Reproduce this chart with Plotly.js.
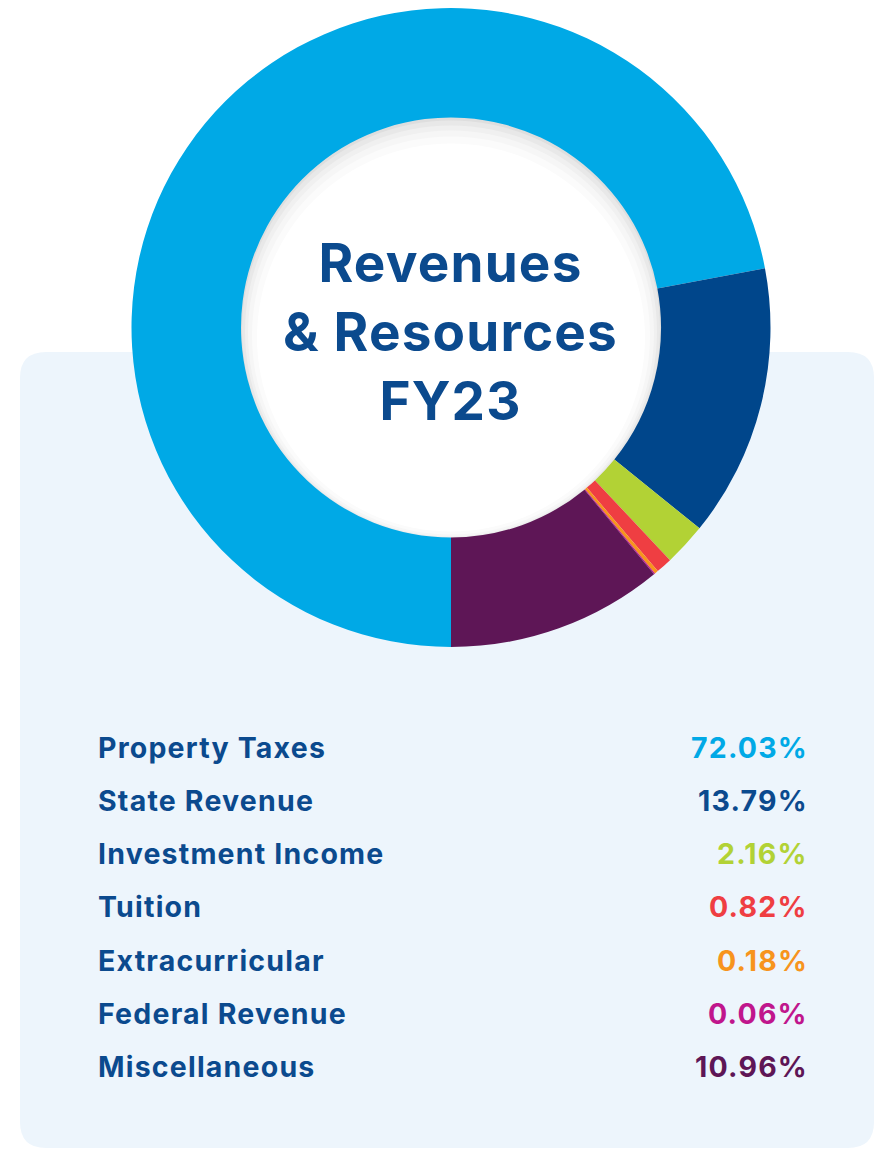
<!DOCTYPE html>
<html>
<head>
<meta charset="utf-8">
<script src="https://cdn.plot.ly/plotly-3.0.1.min.js"></script>
<style>
  html, body { margin: 0; padding: 0; background: #ffffff; }
  #chart { width: 874px; height: 1149px; }
  text.annotation-text { letter-spacing: 1.2px; }
</style>
</head>
<body>
<div id="chart"></div>
<script>
// ---- data ----
const categories = ["Property Taxes", "State Revenue", "Investment Income", "Tuition", "Extracurricular", "Federal Revenue", "Miscellaneous"];
const shares = [72.03, 13.79, 2.16, 0.82, 0.18, 0.06, 10.96];
const valueLabels = ["72.03%", "13.79%", "2.16%", "0.82%", "0.18%", "0.06%", "10.96%"];
const sliceColors = ["#00A9E6", "#00468B", "#B2D235", "#EF3E42", "#F7941D", "#C0168C", "#5E1656"];
const centerTitle = "Revenues<br>& Resources<br>FY23";

// ---- geometry helpers (page pixels -> paper) ----
const W = 874, H = 1149;
const px = x => x / W;
const py = y => 1 - y / H;

const cx = 451, cy = 327.5, rOut = 319.5, rIn = 210;

function circle(cxp, cyp, r, color) {
  return { type: "circle", xref: "paper", yref: "paper", layer: "below",
    x0: px(cxp - r), x1: px(cxp + r), y0: py(cyp + r), y1: py(cyp - r),
    fillcolor: color, line: { width: 0 } };
}

function roundRect(x0, y0, x1, y1, r) {
  const p = (x, y) => px(x) + "," + py(y);
  return "M" + p(x0 + r, y0) + " L" + p(x1 - r, y0) + " Q" + p(x1, y0) + " " + p(x1, y0 + r) +
    " L" + p(x1, y1 - r) + " Q" + p(x1, y1) + " " + p(x1 - r, y1) +
    " L" + p(x0 + r, y1) + " Q" + p(x0, y1) + " " + p(x0, y1 - r) +
    " L" + p(x0, y0 + r) + " Q" + p(x0, y0) + " " + p(x0 + r, y0) + " Z";
}

const shapes = [
  { type: "path", xref: "paper", yref: "paper", layer: "below",
    path: roundRect(20, 352, 874, 1148, 26), fillcolor: "#EDF5FC", line: { width: 0 } },
  circle(cx, cy, rIn + 2, "#dedede"),
  circle(cx, cy + 2, rIn - 1, "#e8e8e8"),
  circle(cx, cy + 4, rIn - 4, "#f0f0f0"),
  circle(cx, cy + 6, rIn - 7, "#f6f6f6"),
  circle(cx, cy + 8, rIn - 11, "#fbfbfb"),
  circle(cx, cy + 10, rIn - 16, "#ffffff")
];

const fontFamily = "Inter, 'Open Sans', sans-serif";
const labelColor = "#0B4A8E";
const rowStart = 747, rowStep = 53.3;

const annotations = [
  { text: centerTitle, xref: "paper", yref: "paper", x: px(451), y: py(332),
    xanchor: "center", yanchor: "middle", showarrow: false, align: "center",
    font: { family: fontFamily, size: 53, color: labelColor, weight: 700 } }
];
categories.forEach((c, i) => {
  const y = py(rowStart + i * rowStep);
  annotations.push({ text: c, xref: "paper", yref: "paper", x: px(96), y: y,
    xanchor: "left", yanchor: "middle", showarrow: false,
    font: { family: fontFamily, size: 28.5, color: labelColor, weight: 700 } });
  annotations.push({ text: valueLabels[i], xref: "paper", yref: "paper", x: px(810), y: y,
    xanchor: "right", yanchor: "middle", showarrow: false,
    font: { family: fontFamily, size: 28.5, color: sliceColors[i] === "#00468B" ? labelColor : sliceColors[i], weight: 700 } });
});

const trace = {
  type: "pie",
  labels: categories,
  values: shares,
  sort: false,
  direction: "clockwise",
  rotation: 180,
  hole: rIn / rOut,
  marker: { colors: sliceColors, line: { width: 0 } },
  textinfo: "none",
  hoverinfo: "label+percent",
  domain: { x: [px(cx - rOut), px(cx + rOut)], y: [py(cy + rOut), py(cy - rOut)] },
  showlegend: false
};

const layout = {
  width: W, height: H,
  margin: { l: 0, r: 0, t: 0, b: 0 },
  paper_bgcolor: "#ffffff",
  showlegend: false,
  shapes: shapes,
  annotations: annotations
};

Plotly.newPlot("chart", [trace], layout, { displayModeBar: false, staticPlot: true });
</script>
</body>
</html>
